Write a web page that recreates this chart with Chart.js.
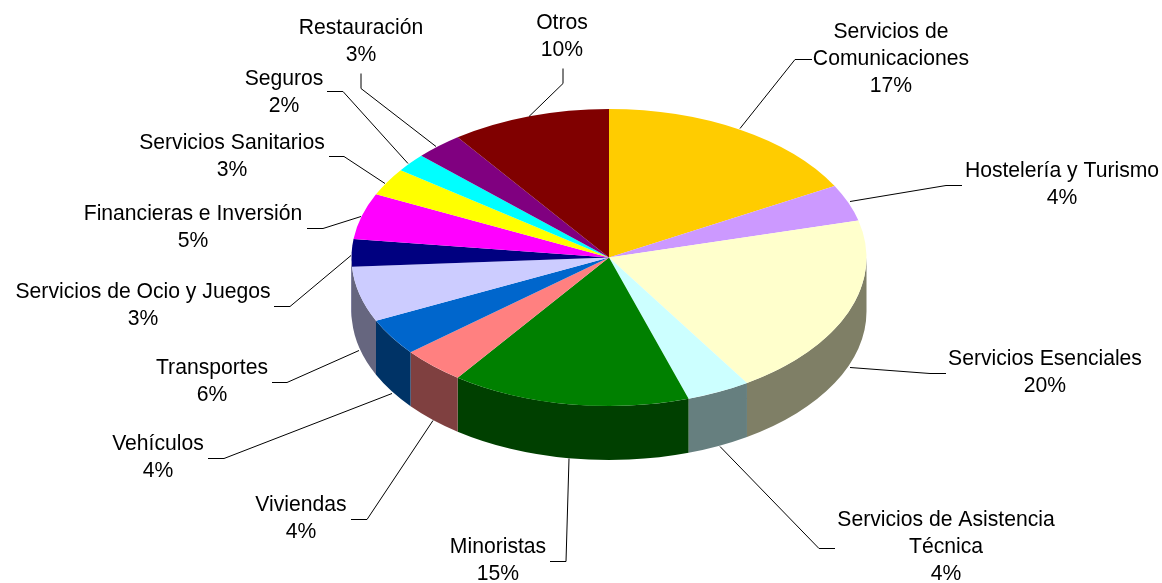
<!DOCTYPE html>
<html>
<head>
<meta charset="utf-8">
<title>Sectores</title>
<script src="https://cdn.jsdelivr.net/npm/chart.js@4/dist/chart.umd.js"></script>
<style>
    html, body { margin: 0; padding: 0; background: #ffffff; }
    canvas { display: block; }
</style>
</head>
<body>
<canvas id="pieChart" width="1162" height="583"></canvas>
<script>
const categories = [
    ['Servicios de', 'Comunicaciones'],
    ['Hostelería y Turismo'],
    ['Servicios Esenciales'],
    ['Servicios de Asistencia', 'Técnica'],
    ['Minoristas'],
    ['Viviendas'],
    ['Vehículos'],
    ['Transportes'],
    ['Servicios de Ocio y Juegos'],
    ['Financieras e Inversión'],
    ['Servicios Sanitarios'],
    ['Seguros'],
    ['Restauración'],
    ['Otros']
];
const shares = [17, 4, 20, 4, 15, 4, 4, 6, 3, 5, 3, 2, 3, 10];
const sliceColors = ['#FFCC00', '#CC99FF', '#FFFFCC', '#CCFFFF', '#008000', '#FF8080', '#0066CC',
    '#CCCCFF', '#000080', '#FF00FF', '#FFFF00', '#00FFFF', '#800080', '#800000'];

// where each label sits: centre x and the middle of its first line
const labelSpots = [
    [891, 32], [1062, 171], [1045, 359], [946, 520], [498, 547], [301, 505], [158, 444],
    [212, 368], [143, 292], [193, 214], [232, 143], [284, 79], [361, 28], [562, 23]
];
const leaders = [
    [[812, 59], [795, 59], [740, 128]],
    [[962, 185], [946, 185], [850, 201]],
    [[946, 373], [930, 373], [850, 367]],
    [[835, 548], [819, 548], [720, 446]],
    [[550, 561], [566, 561], [569, 458]],
    [[351, 519], [367, 519], [433, 420]],
    [[208, 458], [224, 458], [392, 393]],
    [[272, 382], [287, 382], [359, 350]],
    [[274, 306], [290, 306], [351, 255]],
    [[307, 228], [323, 228], [361, 216]],
    [[329, 156], [344, 156], [385, 183]],
    [[327, 91], [343, 91], [408, 163]],
    [[361, 73], [361, 88], [436, 146]],
    [[563, 68], [563, 83], [529, 116]]
];

const tilt = 148.5 / 257.5;
const depth = 54;
const lineGap = 27;

function halfColor(hex) {
    const n = parseInt(hex.slice(1), 16);
    return 'rgb(' + ((n >> 16) >> 1) + ',' + (((n >> 8) & 255) >> 1) + ',' + ((n & 255) >> 1) + ')';
}

// squashes the pie into an ellipse and puts the side wall under it
const tiltedPie = {
    id: 'tiltedPie',
    beforeDatasetsDraw(chart) {
        const ctx = chart.ctx;
        const arcs = chart.getDatasetMeta(0).data;
        arcs.forEach(function (arc, i) {
            const a0 = Math.max(arc.startAngle, 0);
            const a1 = Math.min(arc.endAngle, Math.PI);
            if (a1 <= a0) return;
            const rx = arc.outerRadius;
            const ry = rx * tilt;
            ctx.beginPath();
            ctx.ellipse(arc.x, arc.y, rx, ry, 0, a0, a1);
            ctx.ellipse(arc.x, arc.y + depth, rx, ry, 0, a1, a0, true);
            ctx.closePath();
            ctx.fillStyle = halfColor(sliceColors[i]);
            ctx.fill();
        });
        const first = arcs[0];
        ctx.save();
        ctx.translate(first.x, first.y);
        ctx.scale(1, tilt);
        ctx.translate(-first.x, -first.y);
    },
    afterDatasetsDraw(chart) {
        chart.ctx.restore();
    }
};

const sliceLabels = {
    id: 'sliceLabels',
    afterDraw(chart) {
        const ctx = chart.ctx;
        ctx.save();
        ctx.strokeStyle = '#000000';
        ctx.lineWidth = 1;
        leaders.forEach(function (pts) {
            ctx.beginPath();
            pts.forEach(function (p, k) {
                if (k === 0) ctx.moveTo(p[0], p[1] + 0.5);
                else ctx.lineTo(p[0], p[1] + 0.5);
            });
            ctx.stroke();
        });
        ctx.font = '21.15px "Liberation Sans", Arial, sans-serif';
        ctx.fillStyle = '#000000';
        ctx.textAlign = 'center';
        ctx.textBaseline = 'middle';
        categories.forEach(function (lines, i) {
            const spot = labelSpots[i];
            lines.concat(shares[i] + '%').forEach(function (text, k) {
                ctx.fillText(text, spot[0], spot[1] + k * lineGap);
            });
        });
        ctx.restore();
    }
};

new Chart(document.getElementById('pieChart').getContext('2d'), {
    type: 'pie',
    data: {
        labels: categories,
        datasets: [{
            data: shares,
            backgroundColor: sliceColors,
            borderWidth: 0
        }]
    },
    options: {
        responsive: false,
        animation: false,
        events: [],
        layout: { padding: { left: 56, right: 0, top: 0, bottom: 68 } },
        plugins: {
            legend: { display: false },
            tooltip: { enabled: false }
        }
    },
    plugins: [tiltedPie, sliceLabels]
});
</script>
</body>
</html>
